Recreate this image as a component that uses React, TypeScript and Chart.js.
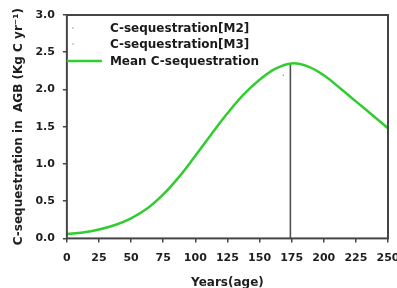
import React, { useEffect, useRef } from "react";
import { Chart, registerables } from "chart.js";

Chart.register(...registerables);

const years = [0, 12.5, 25, 37.5, 50, 62.5, 75, 87.5, 100, 112.5, 125, 137.5, 150, 162.5, 175, 187.5, 200, 212.5, 225, 237.5, 250];
const meanC = [0.06, 0.08, 0.12, 0.18, 0.27, 0.4, 0.59, 0.83, 1.11, 1.4, 1.68, 1.93, 2.13, 2.28, 2.35, 2.31, 2.19, 2.02, 1.84, 1.66, 1.48];
const m2Years = [168.5];
const m2Values = [2.19];
const m3Years: number[] = [];
const m3Values: number[] = [];
const peakYears = [174, 174];
const peakValues = [0, 2.35];
const xTicks = [0, 25, 50, 75, 100, 125, 150, 175, 200, 225, 250];
const yTicks = [0, 0.5, 1.0, 1.5, 2.0, 2.5, 3.0];

const FONT = "'DejaVu Sans', sans-serif";
const AXIS = "#454545";
const GREEN = "rgb(48,205,48)";

const legendPlugin = {
  id: "innerLegend",
  afterDraw(chart: any) {
    const ctx = chart.ctx;
    const ca = chart.chartArea;
    const items = chart.data.datasets.filter((d: any) => d.label);
    ctx.save();
    ctx.font = `bold 12px ${FONT}`;
    ctx.fillStyle = "#1a1a1a";
    ctx.textBaseline = "middle";
    const rows = [13, 29, 46];
    items.forEach((d: any, i: number) => {
      const y = ca.top + rows[i];
      if (d.showLine) {
        ctx.strokeStyle = d.borderColor;
        ctx.lineWidth = d.borderWidth;
        ctx.beginPath();
        ctx.moveTo(ca.left, y);
        ctx.lineTo(ca.left + 35, y);
        ctx.stroke();
      } else {
        ctx.fillStyle = d.pointBackgroundColor;
        ctx.beginPath();
        ctx.arc(ca.left + 6, y, 0.8, 0, Math.PI * 2);
        ctx.fill();
        ctx.fillStyle = "#1a1a1a";
      }
      ctx.fillText(d.label, ca.left + 43, y + 1);
    });
    ctx.restore();
  },
};

const framePlugin = {
  id: "frame",
  afterDatasetsDraw(chart: any) {
    const ctx = chart.ctx;
    const ca = chart.chartArea;
    ctx.save();
    ctx.strokeStyle = AXIS;
    ctx.lineWidth = 2;
    ctx.strokeRect(ca.left, ca.top, ca.right - ca.left, ca.bottom - ca.top);
    ctx.restore();
  },
};

export default function App() {
  const ref = useRef<HTMLCanvasElement>(null);
  useEffect(() => {
    if (!ref.current) return;
    const chart = new Chart(ref.current, {
      type: "scatter",
      data: {
        datasets: [
          {
            label: "C-sequestration[M2]",
            data: m2Years.map((x, i) => ({ x, y: m2Values[i] })),
            showLine: false,
            pointRadius: 0.8,
            pointBackgroundColor: "#9a9a9a",
            pointBorderWidth: 0,
          },
          {
            label: "C-sequestration[M3]",
            data: m3Years.map((x, i) => ({ x, y: m3Values[i] })),
            showLine: false,
            pointRadius: 0.8,
            pointBackgroundColor: "#a0a0a0",
            pointBorderWidth: 0,
          },
          {
            label: "Mean C-sequestration",
            data: years.map((x, i) => ({ x, y: meanC[i] })),
            showLine: true,
            borderColor: GREEN,
            borderWidth: 2.5,
            pointRadius: 0,
            tension: 0.4,
          } as any,
          {
            label: "",
            data: peakYears.map((x, i) => ({ x, y: peakValues[i] })),
            showLine: true,
            borderColor: "#505050",
            borderWidth: 1.6,
            pointRadius: 0,
          },
        ],
      },
      options: {
        animation: false,
        responsive: true,
        maintainAspectRatio: false,
        layout: { padding: { left: 4, right: 9, top: 15, bottom: -2 } },
        plugins: { legend: { display: false }, tooltip: { enabled: false } },
        scales: {
          x: {
            type: "linear",
            min: 0,
            max: 250,
            afterFit: (s: any) => {
              s.paddingLeft = 0;
              s.paddingRight = 0;
            },
            afterBuildTicks: (s: any) => {
              s.ticks = xTicks.map((v) => ({ value: v }));
            },
            ticks: {
              font: { family: FONT, size: 11, weight: "bold" },
              color: "#1e1e1e",
              padding: 9,
              maxRotation: 0,
              callback: (v: any) => String(v),
            },
            grid: { drawOnChartArea: false, tickLength: 4, color: AXIS, lineWidth: 1.5 },
            border: { display: false },
            title: {
              display: true,
              text: "Years(age)",
              font: { family: FONT, size: 12, weight: "bold" },
              color: "#1e1e1e",
              padding: { top: 2, bottom: 0 },
            },
          },
          y: {
            min: 0,
            max: 3,
            afterFit: (s: any) => {
              s.paddingTop = 0;
              s.paddingBottom = 0;
            },
            afterBuildTicks: (s: any) => {
              s.ticks = yTicks.map((v) => ({ value: v }));
            },
            ticks: {
              font: { family: FONT, size: 11, weight: "bold" },
              color: "#1e1e1e",
              padding: 8,
              callback: (v: any) => Number(v).toFixed(1),
            },
            grid: { drawOnChartArea: false, tickLength: 4, color: AXIS, lineWidth: 1.5 },
            border: { display: false },
            title: {
              display: true,
              text: "C-sequestration in  AGB (Kg C yr\u207B\u00B9)",
              font: { family: FONT, size: 12, weight: "bold" },
              color: "#1e1e1e",
              padding: { top: 8, bottom: 1 },
            },
          },
        },
      },
      plugins: [framePlugin, legendPlugin],
    });
    return () => chart.destroy();
  }, []);
  return (
    <div style={{ position: "fixed", left: 0, top: 0, width: 397, height: 288, background: "#fff" }}>
      <canvas ref={ref} />
    </div>
  );
}
